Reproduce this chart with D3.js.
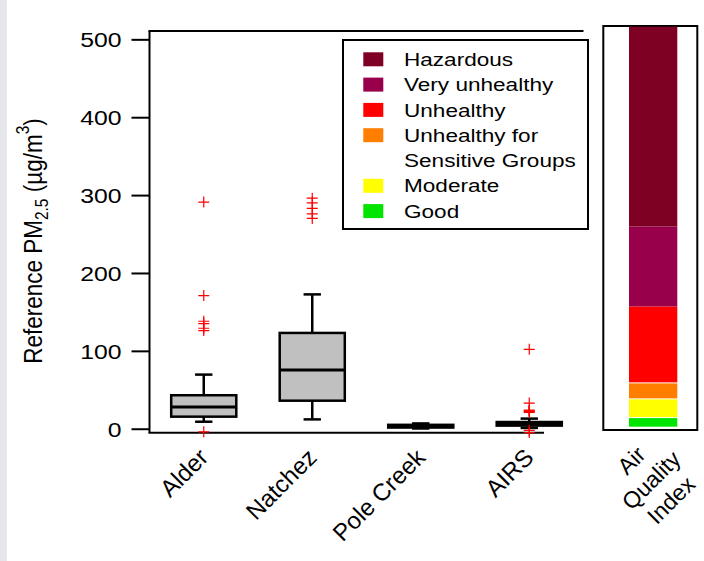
<!DOCTYPE html>
<html>
<head>
<meta charset="utf-8">
<script src="https://cdn.jsdelivr.net/npm/d3@7"></script>
<style>
  html, body { margin: 0; padding: 0; background: #fff; }
  svg text { font-family: "Liberation Sans", Arial, sans-serif; fill: #000; }
</style>
</head>
<body>
<svg id="chart" width="704" height="561"></svg>
<script>
// ---- data ----
const categories   = ["Alder", "Natchez", "Pole Creek", "AIRS"];
const whiskerLow   = [9, 12, 0.3, 1];
const q1           = [15.5, 36, 1.5, 4];
const median       = [28, 75.5, 3, 6];
const q3           = [43, 123, 5, 8.6];
const whiskerHigh  = [69.5, 172.5, 6.8, 13];
const outliers     = [
  [291, 171, 138, 135, 129, 126, -4],
  [296, 290, 283, 276, 270],
  [],
  [102, 33, 24, 23, 22, 21, -2, -5]
];
const yTicks       = [0, 100, 200, 300, 400, 500];
const aqiLabels    = ["Good", "Moderate", "Unhealthy for Sensitive Groups", "Unhealthy", "Very unhealthy", "Hazardous"];
const aqiBreaks    = [0, 12, 35.4, 55.4, 150.4, 250.4, 500];
const aqiColors    = ["#00e400", "#ffff00", "#ff7e00", "#ff0000", "#99004c", "#7e0023"];

// ---- drawing ----
const svg = d3.select("#chart");
const SX = 1.18; // horizontal text stretch of the reference

svg.append("rect").attr("x", 0).attr("y", 0).attr("width", 7).attr("height", 561).attr("fill", "#e6e7ea");

const pLeft = 149.5, pTop = 31, pBottom = 432.7;
const x = d3.scaleLinear().domain([0.5, 4.5]).range([pLeft, 583.5]);
const y = d3.scaleLinear().domain([-5.1, 510.7]).range([pBottom, pTop]);

// y axis
const yAxis = svg.append("g").attr("transform", `translate(${pLeft},0)`)
  .call(d3.axisLeft(y).tickValues(yTicks).tickSize(18).tickSizeOuter(0).tickPadding(10));
yAxis.select(".domain").remove();
yAxis.selectAll(".tick line").attr("stroke", "#000").attr("stroke-width", 2);
yAxis.selectAll(".tick text")
  .attr("font-size", 21).attr("x", null).attr("dy", "0.36em")
  .attr("transform", `translate(-28,0) scale(${SX},1)`)
  .style("font-family", "Liberation Sans, Arial, sans-serif");

// frame lines
const frame = svg.append("g").attr("stroke", "#000").attr("stroke-width", 2).attr("fill", "none");
frame.append("line").attr("x1", pLeft).attr("x2", pLeft).attr("y1", pTop).attr("y2", pBottom);
frame.append("line").attr("x1", pLeft - 1).attr("x2", x(4.5)).attr("y1", pTop).attr("y2", pTop);
frame.append("line").attr("x1", pLeft - 1).attr("x2", 544).attr("y1", pBottom).attr("y2", pBottom);

// boxes
const bw = 0.6, cw = 0.16;
const boxes = svg.append("g");
categories.forEach((c, i) => {
  const cx = x(i + 1);
  const g = boxes.append("g");
  const half = (x(bw) - x(0)) / 2, ch = (x(cw) - x(0)) / 2;
  // whiskers
  g.append("line").attr("x1", cx).attr("x2", cx).attr("y1", y(q3[i])).attr("y2", y(whiskerHigh[i]))
    .attr("stroke", "#000").attr("stroke-width", 2.5);
  g.append("line").attr("x1", cx).attr("x2", cx).attr("y1", y(q1[i])).attr("y2", y(whiskerLow[i]))
    .attr("stroke", "#000").attr("stroke-width", 2.5);
  g.append("line").attr("x1", cx - ch).attr("x2", cx + ch).attr("y1", y(whiskerHigh[i])).attr("y2", y(whiskerHigh[i]))
    .attr("stroke", "#000").attr("stroke-width", 2.5);
  g.append("line").attr("x1", cx - ch).attr("x2", cx + ch).attr("y1", y(whiskerLow[i])).attr("y2", y(whiskerLow[i]))
    .attr("stroke", "#000").attr("stroke-width", 2.5);
  // box
  g.append("rect").attr("x", cx - half).attr("width", 2 * half)
    .attr("y", y(q3[i])).attr("height", y(q1[i]) - y(q3[i]))
    .attr("fill", "#c0c0c0").attr("stroke", "#000").attr("stroke-width", 2.5);
  g.append("line").attr("x1", cx - half).attr("x2", cx + half).attr("y1", y(median[i])).attr("y2", y(median[i]))
    .attr("stroke", "#000").attr("stroke-width", 3);
  // outliers
  outliers[i].forEach(v => {
    g.append("path").attr("d", `M${cx - 5.5},${y(v)}h11M${cx},${y(v) - 5.5}v11`)
      .attr("stroke", "#ff0000").attr("stroke-width", 1.2).attr("fill", "none");
  });
  // category label
  svg.append("text").attr("transform", `translate(${cx - 6},${447}) rotate(-45)`)
    .attr("text-anchor", "end").attr("dy", "0.7em").attr("font-size", 24).text(c);
});

// legend
const lg = svg.append("g");
lg.append("rect").attr("x", 343).attr("y", 40).attr("width", 245).attr("height", 189)
  .attr("fill", "#fff").attr("stroke", "#000").attr("stroke-width", 2);
const rowY = r => 59.3 + r * 25.3;
const legendOrder = [5, 4, 3, 2, 1, 0];
const legendRows = [0, 1, 2, 3, 5, 6];
legendOrder.forEach((k, j) => {
  const ry = rowY(legendRows[j]);
  lg.append("rect").attr("x", 363.3).attr("y", ry - 7).attr("width", 20).attr("height", 14).attr("fill", aqiColors[k]);
  const words = aqiLabels[k] === "Unhealthy for Sensitive Groups" ? ["Unhealthy for", "Sensitive Groups"] : [aqiLabels[k]];
  words.forEach((w, wi) => {
    lg.append("text").attr("transform", `translate(404,${ry + wi * 25.3}) scale(1.22,1)`)
      .attr("dy", "0.36em").attr("font-size", 18.5).text(w);
  });
});

// AQI panel
const py = d3.scaleLinear().domain([0, 500]).range([426.7, 26.7]);
svg.append("rect").attr("x", 603.3).attr("y", 26).attr("width", 94).attr("height", 404)
  .attr("fill", "#fff").attr("stroke", "#000").attr("stroke-width", 2);
aqiColors.forEach((col, k) => {
  const gap = k < 3 ? 1 : 0;
  svg.append("rect").attr("x", 629).attr("width", 48.3)
    .attr("y", py(aqiBreaks[k + 1]) + gap).attr("height", Math.max(0, py(aqiBreaks[k]) - py(aqiBreaks[k + 1]) - gap))
    .attr("fill", col);
});
const aq = svg.append("g").attr("transform", "translate(651,480) rotate(-45)");
["Air", "Quality", "Index"].forEach((w, i) => {
  aq.append("text").attr("y", (i - 1) * 28).attr("dy", "0.36em").attr("text-anchor", "middle")
    .attr("font-size", 23).text(w);
});

// y label
const yl = svg.append("text").attr("transform", `translate(42,241) scale(${SX},1) rotate(-90)`)
  .attr("text-anchor", "middle").attr("font-size", 22.5);
yl.append("tspan").text("Reference PM");
yl.append("tspan").attr("font-size", 15.5).attr("dy", 5).text("2.5");
yl.append("tspan").attr("dy", -5).text(" (\u00b5g/m");
yl.append("tspan").attr("font-size", 15.5).attr("dy", -11).text("3");
yl.append("tspan").attr("dy", 11).text(")");
</script>
</body>
</html>
